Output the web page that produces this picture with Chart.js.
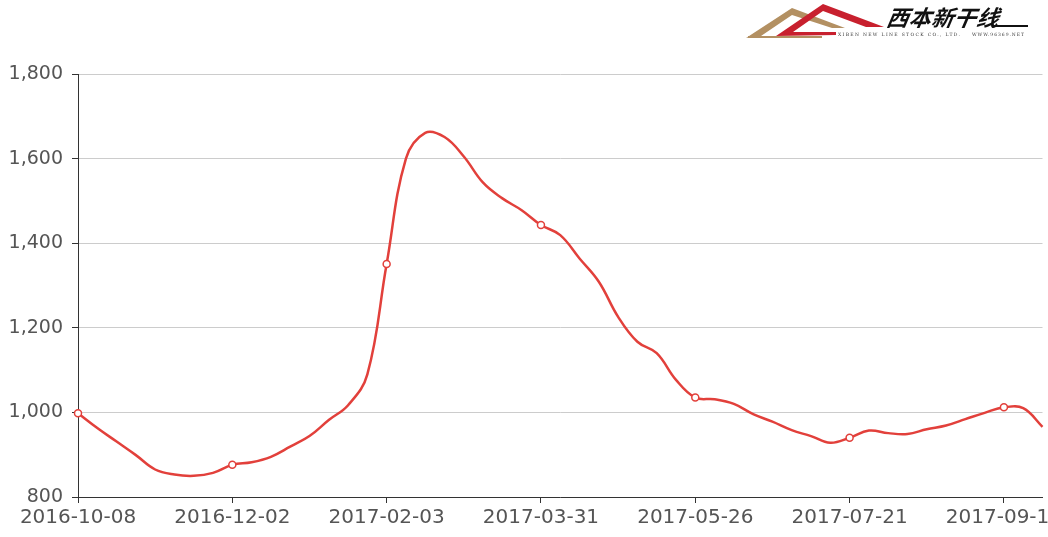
<!DOCTYPE html>
<html>
<head>
<meta charset="utf-8">
<script src="https://cdn.jsdelivr.net/npm/chart.js@4"></script>
<style>
html,body{margin:0;padding:0;background:#fff;overflow:hidden;width:1048px;height:537px}
#wrap{position:absolute;left:0;top:0;width:1048px;height:537px}
#logo{position:absolute;left:740px;top:0;width:300px;height:45px}
</style>
</head>
<body>
<div id="wrap"><canvas id="c" width="1048" height="537"></canvas></div>
<svg id="logo" width="300" height="45" viewBox="740 0 300 45" xmlns="http://www.w3.org/2000/svg">
  <polygon points="746,38 792,8 845,28 832,28 792,15 761,36" fill="#b39062"/>
  <rect x="748" y="36" width="74" height="2" fill="#b39062"/>
  <polygon points="776,36 823,4 884,27 866,27 823,11 793,32 836,32 836,35" fill="#c8202e"/>
  <text x="886" y="26" font-family="Noto Sans CJK SC" font-weight="bold" font-style="italic" font-size="22" fill="#111" transform="skewX(-10) translate(4,0)" textLength="112">西本新干线</text>
  <rect x="994" y="25" width="34" height="2" fill="#111"/>
  <text x="838" y="36" font-family="DejaVu Serif" font-size="4.5" fill="#333" textLength="122">XIBEN NEW LINE STOCK CO., LTD.</text>
  <text x="972" y="36" font-family="DejaVu Serif" font-size="4.5" fill="#333" textLength="52">WWW.96369.NET</text>
</svg>
<script>
const dates = ["2016-10-08","2016-10-14","2016-10-21","2016-10-28","2016-11-04","2016-11-11","2016-11-18","2016-11-25",
"2016-12-02","2016-12-09","2016-12-16","2016-12-23","2016-12-30","2017-01-06","2017-01-13","2017-01-20",
"2017-02-03","2017-02-10","2017-02-17","2017-02-24","2017-03-03","2017-03-10","2017-03-17","2017-03-24",
"2017-03-31","2017-04-07","2017-04-14","2017-04-21","2017-04-28","2017-05-05","2017-05-12","2017-05-19",
"2017-05-26","2017-06-02","2017-06-09","2017-06-16","2017-06-23","2017-06-30","2017-07-07","2017-07-14",
"2017-07-21","2017-07-28","2017-08-04","2017-08-11","2017-08-18","2017-08-25","2017-09-01","2017-09-08",
"2017-09-15","2017-09-22","2017-09-29"];
const values = [998,963,931,899,865,853,850,857,
876,882,895,919,944,982,1017,1090,
1351,1600,1661,1651,1605,1543,1506,1478,
1443,1419,1364,1309,1226,1167,1140,1077,
1035,1031,1020,996,978,958,944,928,
940,957,951,949,960,969,984,999,
1012,1010,966];
const yTicks = [800,1000,1200,1400,1600,1800];
const labelEvery = 8;

const lineColor = '#e2403b';
new Chart(document.getElementById('c'), {
  type: 'line',
  data: {
    labels: dates,
    datasets: [{
      data: values,
      borderColor: lineColor,
      borderWidth: 2.5,
      tension: 0.4,
      fill: false,
      pointRadius: values.map((v,i)=> i%labelEvery===0 ? 3.5 : 0),
      pointBackgroundColor: '#fff',
      pointBorderColor: lineColor,
      pointBorderWidth: 1.5,
      clip: false
    }]
  },
  options: {
    responsive: false,
    animation: false,
    devicePixelRatio: 1,
    layout: { padding: { top: 74, right: 3, left: 0, bottom: 0 } },
    plugins: { legend: { display: false }, tooltip: { enabled: false } },
    scales: {
      x: {
        type: 'category',
        grid: {
          display: true,
          drawOnChartArea: false,
          drawTicks: true,
          tickLength: 6,
          color: 'rgba(0,0,0,0)',
          tickColor: ctx => (ctx.index % labelEvery === 0) ? '#333' : 'rgba(0,0,0,0)'
        },
        border: { display: true, color: '#333', width: 1 },
        ticks: {
          autoSkip: false, maxRotation: 0, minRotation: 0, padding: 3,
          color: '#555',
          font: { family: 'DejaVu Sans', size: 20 },
          callback: (v, i) => (i % labelEvery === 0) ? dates[i] : ''
        },
        afterFit: s => { s.height = 40; }
      },
      y: {
        min: yTicks[0], max: yTicks[yTicks.length-1],
        afterBuildTicks: s => { s.ticks = yTicks.map(v => ({ value: v })); },
        grid: { color: '#cccccc', tickColor: '#333', tickLength: 6, lineWidth: 1 },
        border: { display: true, color: '#333', width: 1 },
        ticks: {
          padding: 9, color: '#555',
          font: { family: 'DejaVu Sans', size: 19 },
          callback: v => v.toLocaleString('en-US')
        },
        afterFit: s => { s.width = 78; }
      }
    }
  }
});
</script>
</body>
</html>
